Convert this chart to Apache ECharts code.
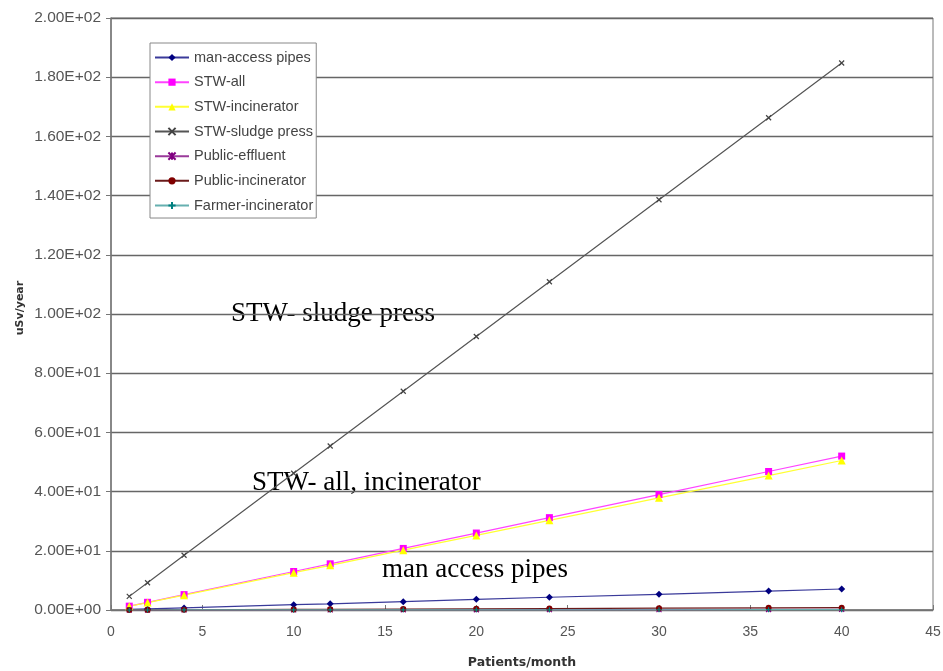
<!DOCTYPE html>
<html>
<head>
<meta charset="utf-8">
<script src="https://cdn.jsdelivr.net/npm/echarts@6/dist/echarts.min.js"></script>
<style>html,body{margin:0;padding:0;background:#fff}#c{width:943px;height:671px}</style>
</head>
<body>
<div id="c"></div>
<script>
const patients = [1, 2, 4, 10, 12, 16, 20, 24, 30, 36, 40];
const manAccess = [0.18, 0.36, 0.71, 1.8, 2.1, 2.8, 3.6, 4.3, 5.3, 6.4, 7.1];
const stwAll = [1.3, 2.6, 5.2, 13.0, 15.6, 20.8, 26.0, 31.2, 39.0, 46.8, 52.0];
const stwIncinerator = [1.26, 2.5, 5.0, 12.6, 15.1, 20.2, 25.2, 30.3, 37.9, 45.4, 50.5];
const stwSludge = [4.6, 9.2, 18.5, 46.2, 55.4, 73.9, 92.4, 110.9, 138.6, 166.3, 184.8];
const publicEffluent = [0.005, 0.01, 0.02, 0.05, 0.06, 0.08, 0.1, 0.12, 0.15, 0.18, 0.2];
const publicIncinerator = [0.02, 0.04, 0.08, 0.2, 0.24, 0.32, 0.4, 0.48, 0.6, 0.72, 0.8];
const farmerIncinerator = [0.003, 0.006, 0.012, 0.03, 0.036, 0.048, 0.06, 0.072, 0.09, 0.108, 0.12];
const seriesNames = ['man-access pipes', 'STW-all', 'STW-incinerator', 'STW-sludge press', 'Public-effluent', 'Public-incinerator', 'Farmer-incinerator'];
const annotations = ['STW- sludge press', 'STW- all, incinerator', 'man access pipes'];

const pairs = arr => patients.map((x, i) => [x, arr[i]]);
const crossPath = 'path://M0,0L10,10M10,0L0,10';
const starPath = 'path://M0,0L10,10M10,0L0,10M5,0L5,10';
const plusPath = 'path://M5,0L5,10M0,5L10,5';

function fmtE(v) {
  if (v === 0) return '0.00E+00';
  const e = Math.floor(Math.log10(Math.abs(v)));
  const m = v / Math.pow(10, e);
  return m.toFixed(2) + 'E' + (e >= 0 ? '+' : '-') + String(Math.abs(e)).padStart(2, '0');
}

function mk(name, data, lineColor, markColor, symbol, size, stroke) {
  return {
    name, type: 'line', data: pairs(data),
    symbol, symbolSize: size,
    lineStyle: { color: lineColor, width: 1.2 },
    itemStyle: stroke ? { color: 'none', borderColor: markColor, borderWidth: 1.2 } : { color: markColor, borderColor: markColor, borderWidth: 0 },
    emphasis: { disabled: true },
    animation: false
  };
}

const chart = echarts.init(document.getElementById('c'), null, { renderer: 'canvas' });
chart.setOption({
  backgroundColor: '#fff',
  animation: false,
  grid: { left: 111, right: 10, top: 18, bottom: 61, containLabel: false, outerBoundsMode: 'none', show: true, borderColor: '#777', borderWidth: 1 },
  xAxis: {
    type: 'value', min: 0, max: 45, interval: 5,
    name: 'Patients/month', nameLocation: 'middle', nameGap: 46,
    nameTextStyle: { fontFamily: 'DejaVu Sans', fontSize: 12.5, fontWeight: 'bold', color: '#333' },
    axisLine: { lineStyle: { color: '#777', width: 1.5 } },
    axisTick: { show: true, inside: true, length: 5, lineStyle: { color: '#777' } },
    axisLabel: { fontFamily: 'Liberation Sans', fontSize: 14, color: '#555', margin: 15 },
    splitLine: { show: false }
  },
  yAxis: {
    type: 'value', min: 0, max: 200, interval: 20,
    axisLine: { show: true, lineStyle: { color: '#777', width: 1.5 } },
    axisTick: { show: true, length: 5, lineStyle: { color: '#777' } },
    axisLabel: { fontFamily: 'Liberation Sans', fontSize: 15.5, color: '#555', margin: 10, formatter: v => fmtE(v) },
    splitLine: { show: true, lineStyle: { color: '#666', width: 1.3 } }
  },
  legend: {
    orient: 'vertical', left: 150, top: 43,
    padding: [7, 3, 5, 4], itemGap: 9.67, itemWidth: 34, itemHeight: 9,
    backgroundColor: '#fff', borderColor: '#888', borderWidth: 1,
    textStyle: { fontFamily: 'Liberation Sans', fontSize: 14.5, lineHeight: 14, color: '#444' },
    data: seriesNames
  },
  series: [
    mk(seriesNames[0], manAccess, '#3a3a9a', '#000080', 'diamond', 7, false),
    mk(seriesNames[1], stwAll, '#ff44ff', '#ff00ff', 'rect', 7, false),
    mk(seriesNames[2], stwIncinerator, '#ffff33', '#ffff00', 'triangle', 8, false),
    mk(seriesNames[3], stwSludge, '#555555', '#444444', crossPath, 5, true),
    mk(seriesNames[4], publicEffluent, '#9a3a9a', '#800080', starPath, 5, true),
    mk(seriesNames[5], publicIncinerator, '#6a1a1a', '#800000', 'circle', 6, false),
    mk(seriesNames[6], farmerIncinerator, '#66b0b0', '#008080', plusPath, 5, true)
  ],
  graphic: [
    { type: 'text', x: 20, y: 308, rotation: Math.PI / 2, style: { text: 'uSv/year', font: 'bold 11px "DejaVu Sans"', fill: '#333', align: 'center', verticalAlign: 'middle' } },
    { type: 'text', x: 231, y: 327, style: { text: annotations[0], font: '27px "Liberation Serif"', fill: '#000', verticalAlign: 'bottom' } },
    { type: 'text', x: 252, y: 496, style: { text: annotations[1], font: '27px "Liberation Serif"', fill: '#000', verticalAlign: 'bottom' } },
    { type: 'text', x: 382, y: 583, style: { text: annotations[2], font: '27px "Liberation Serif"', fill: '#000', verticalAlign: 'bottom' } }
  ]
});
</script>
</body>
</html>
